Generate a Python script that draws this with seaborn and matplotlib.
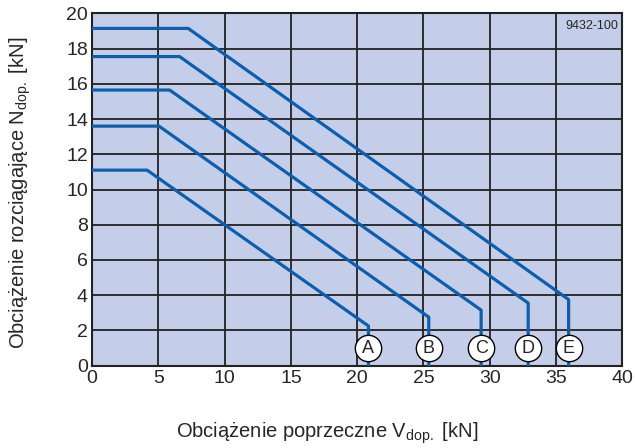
import pandas as pd
import seaborn as sns
import matplotlib.pyplot as plt

# curve data
labels = ["A", "B", "C", "D", "E"]
n_max = [11.1, 13.6, 15.65, 17.55, 19.15]
v_knee = [4.15, 5.05, 5.85, 6.6, 7.25]
v_end = [20.85, 25.4, 29.35, 32.9, 35.95]
n_end = [2.25, 2.75, 3.15, 3.55, 3.75]
x_ticks = [0, 5, 10, 15, 20, 25, 30, 35, 40]
y_ticks = [0, 2, 4, 6, 8, 10, 12, 14, 16, 18, 20]

sns.set_style("white")
plt.rcParams["font.family"] = ["Liberation Sans", "DejaVu Sans"]
plt.rcParams["mathtext.fontset"] = "custom"
plt.rcParams["mathtext.rm"] = "Liberation Sans"

rows = []
for lab, nm, vk, ve, ne in zip(labels, n_max, v_knee, v_end, n_end):
    for i, (v, n) in enumerate([(0, nm), (vk, nm), (ve, ne), (ve, 0)]):
        rows.append({"curve": lab, "order": i, "V": v, "N": n})
df = pd.DataFrame(rows)

fig = plt.figure(figsize=(6.35, 4.48), dpi=100)
ax = fig.add_axes([0.145, 0.184, 0.835, 0.786])
ax.set_facecolor("#c5cee8")

for lab in labels:
    sub = df[df["curve"] == lab]
    sns.lineplot(data=sub, x="V", y="N", sort=False, estimator=None,
                 color="#0b5fae", linewidth=2.3, ax=ax, zorder=3)

marks = pd.DataFrame({"V": v_end, "N": [1.0] * len(v_end), "label": labels})
sns.scatterplot(data=marks, x="V", y="N", s=360, color="white",
                edgecolor="black", linewidth=1.0, ax=ax, zorder=4)
for _, r in marks.iterrows():
    ax.text(r["V"], r["N"] - 0.05, r["label"], ha="center", va="center",
            fontsize=13, zorder=5)

ax.text(39.7, 19.6, "9432-100", ha="right", va="top", fontsize=9)

ax.set_xlim(0, 40)
ax.set_ylim(0, 20)
ax.set_xticks(x_ticks)
ax.set_yticks(y_ticks)
ax.grid(True, color="#222222", linewidth=1.3)
for sp in ax.spines.values():
    sp.set_color("#222222")
    sp.set_linewidth(1.5)
ax.tick_params(axis="both", length=0, labelsize=14, pad=3)

ax.set_xlabel(r"Obciążenie poprzeczne V$_{\mathrm{dop.}}$ [kN]", fontsize=14.5)
ax.set_ylabel(r"Obciążenie rozciągające N$_{\mathrm{dop.}}$ [kN]", fontsize=14.5)
ax.xaxis.set_label_coords(0.443, -0.155)
ax.yaxis.set_label_coords(-0.112, 0.49)

fig.savefig("out.png", dpi=100)
